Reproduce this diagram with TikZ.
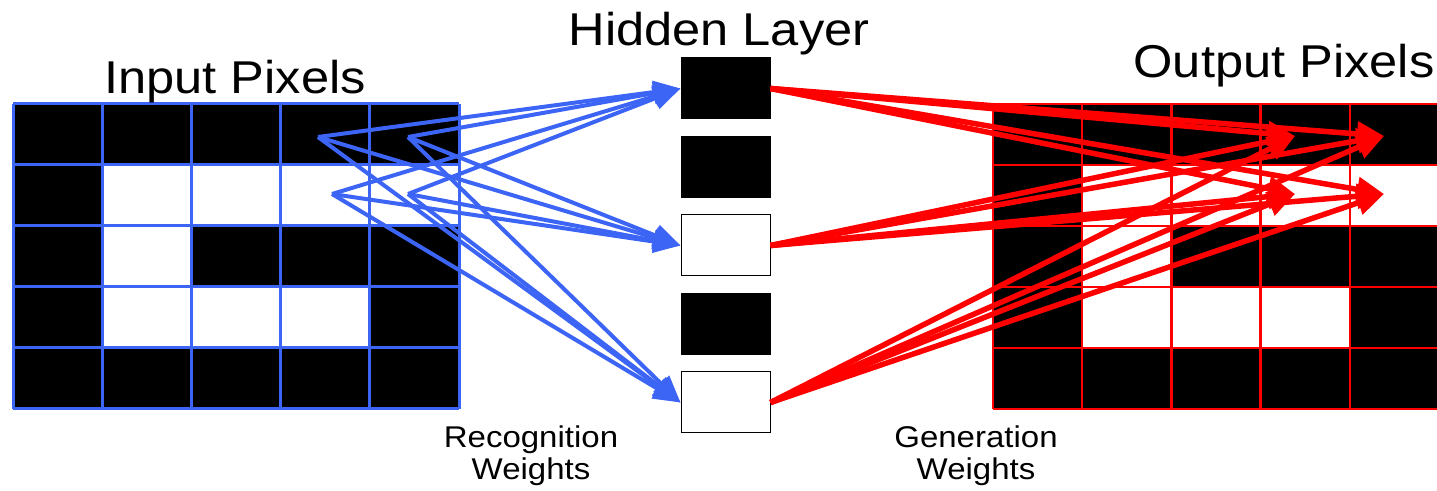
\documentclass[tikz,border=0pt]{standalone}
\usepackage{fontspec}
\setmainfont{Liberation Sans}
\newfontfamily\titlefont[FakeStretch=1.1]{Liberation Sans}
\usetikzlibrary{arrows.meta}

\definecolor{recblue}{RGB}{60,100,245}
\definecolor{genred}{RGB}{255,0,0}

% 5x5 pixel image, #1 = left edge, #2 = line style
\newcommand{\pixelgrid}[2]{%
  \foreach \row [count=\r from 0] in {{1,1,1,1,1},{1,0,0,0,0},{1,0,1,1,1},{1,0,0,0,1},{1,1,1,1,1}}
    \foreach \v [count=\c from 0] in \row
      {\ifnum\v=1 \fill[black] (#1+\c*89.2,104+\r*61) rectangle ++(89.2,61);\fi}
  \foreach \c in {0,...,5} \draw[#2] (#1+\c*89.2,104) -- (#1+\c*89.2,409);
  \foreach \r in {0,...,5} \draw[#2] (#1,104+\r*61) -- (#1+446,104+\r*61);
}

\begin{document}
\begin{tikzpicture}[x=0.5pt,y=-0.5pt,
    hid/.style={draw=black, line width=0.5pt, minimum width=44.5pt, minimum height=30.5pt, inner sep=0pt},
    title/.style={font=\titlefont\fontsize{23}{27}\selectfont, anchor=base},
    caption/.style={font=\titlefont\fontsize{15}{16}\selectfont, align=center, anchor=base},
    recog/.style={recblue, line width=2pt, -{Triangle[length=13.5pt,width=11pt]}},
    gener/.style={genred, line width=2.75pt, -{Triangle[length=13.5pt,width=12pt]}}]
  \useasboundingbox (0,0) rectangle (1437,491);

  \pixelgrid{13}{recblue, line width=1.5pt}
  \pixelgrid{993}{genred, line width=1.25pt}

  % hidden units
  \node[hid, fill=black] (h1) at (725.5,88.5) {};
  \node[hid, fill=black] (h2) at (725.5,167) {};
  \node[hid, fill=white] (h3) at (725.5,245.5) {};
  \node[hid, fill=black] (h4) at (725.5,324) {};
  \node[hid, fill=white] (h5) at (725.5,402.5) {};

  \node[title] (inp) at (235,94) {Input Pixels};
  \node[title] (hl) at (719,46) {Hidden Layer};
  \node[title] (outp) at (1284,78) {Output Pixels};
  \node[caption] (rw) at (531,480) {Recognition\\Weights};
  \node[caption] (gw) at (976,480) {Generation\\Weights};

  % weight ends inside the pixel images
  \coordinate (s1) at (318,137);
  \coordinate (s2) at (408,137);
  \coordinate (s3) at (332,194);
  \coordinate (s4) at (408,194);
  \coordinate (t1) at (1295,136);
  \coordinate (t2) at (1384,136);
  \coordinate (t3) at (1295,194);
  \coordinate (t4) at (1384,194);

  \foreach \s in {s1,s2,s3,s4}
    \foreach \h in {h1,h3,h5}
      \draw[recog] (\s) -- (\h.west);
  \foreach \h in {h1,h3,h5}
    \foreach \t in {t1,t2,t3,t4}
      \draw[gener] (\h.east) -- (\t);
\end{tikzpicture}
\end{document}
